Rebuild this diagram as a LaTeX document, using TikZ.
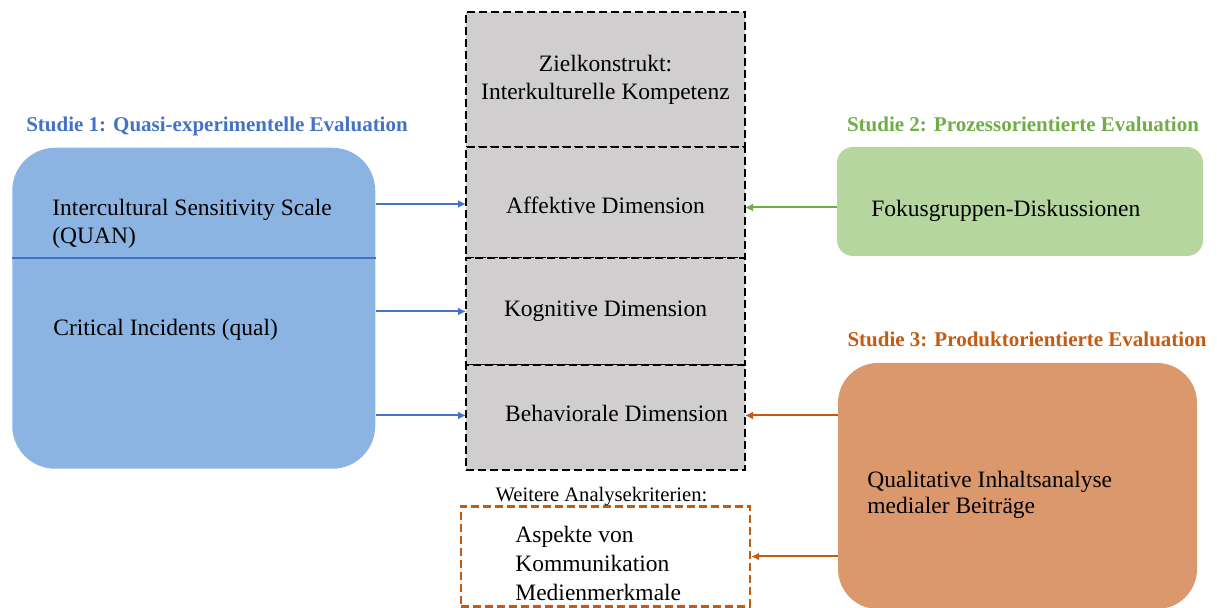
\documentclass[tikz,border=0pt]{standalone}
\usepackage{fontspec}
\setmainfont{Liberation Serif}
\usetikzlibrary{positioning,arrows.meta}
\definecolor{blueline}{RGB}{68,114,196}
\definecolor{bluefill}{RGB}{139,180,226}
\definecolor{greenline}{RGB}{112,173,71}
\definecolor{greenfill}{RGB}{182,214,160}
\definecolor{orangeline}{RGB}{197,90,17}
\definecolor{orangefill}{RGB}{218,152,108}
\definecolor{dimgrey}{RGB}{208,206,206}

\begin{document}
\begin{tikzpicture}[x=0.5pt,y=-0.5pt,
    txt/.style={font=\fontsize{11.75}{14}\selectfont,inner sep=0pt},
    studytitle/.style={font=\fontsize{10.5}{12}\selectfont\bfseries,inner sep=0pt,anchor=base},
    dimbox/.style={draw,dash pattern=on 4pt off 2pt,line width=1.2pt,fill=dimgrey,outer sep=0pt,minimum width=139.5pt,font=\fontsize{11.75}{14}\selectfont},
    link/.style={line width=1pt,-{Latex[length=4pt,width=4pt]}}]
    \useasboundingbox (0,0) rectangle (1217,608);
    % Zielkonstrukt und Dimensionen
    \node(ziel)[dimbox,minimum height=67.5pt,align=center] at (605.5,79.5) {Zielkonstrukt:\\Interkulturelle Kompetenz};
    \node(affektiv)[below=0pt of ziel,dimbox,minimum height=55.5pt,text height=11pt]{Affektive Dimension};
    \node(kognitiv)[below=0pt of affektiv,dimbox,minimum height=53.5pt]{Kognitive Dimension};
    \node(behavioral)[below=0pt of kognitiv,dimbox,minimum height=52.5pt]{};
    \node(behaviortext)[txt] at ([xshift=5.5pt,yshift=2pt]behavioral.center) {Behaviorale Dimension};
    % Studie 1
    \node(studyone)[fill=bluefill,rounded corners=21.5pt,minimum width=181.5pt,minimum height=160.5pt] at (193.75,308.25) {};
    \draw[blueline,line width=1pt] (studyone.west |- 0,258) -- (studyone.east |- 0,258);
    \node(iss)[txt,anchor=west,align=left] at (52,224) {Intercultural Sensitivity Scale\\(QUAN)};
    \node(ci)[txt,anchor=base west] at (53,336) {Critical Incidents (qual)};
    \node(titleone)[studytitle,text=blueline] at (217,132) {Studie 1: Quasi-experimentelle Evaluation};
    % Studie 2
    \node(fokusbox)[fill=greenfill,rounded corners=8pt,minimum width=183pt,minimum height=54.5pt] at (1020,201.5) {};
    \node(fokus)[txt,anchor=base west] at (871,217) {Fokusgruppen-Diskussionen};
    \node(titletwo)[studytitle,text=greenline] at (1023,132) {Studie 2: Prozessorientierte Evaluation};
    % Studie 3
    \node(inhaltbox)[fill=orangefill,rounded corners=20pt,minimum width=179.5pt,minimum height=123pt] at (1017.5,486) {};
    \node(inhalt)[txt,anchor=west,align=left,font=\fontsize{11.75}{13}\selectfont] at (867,495) {Qualitative Inhaltsanalyse\\medialer Beiträge};
    \node(titlethree)[studytitle,text=orangeline] at (1027,347) {Studie 3: Produktorientierte Evaluation};
    % Weitere Analysekriterien
    \node(kriterien)[draw=orangeline,dash pattern=on 4pt off 2pt,line width=1.2pt,minimum width=144.5pt,minimum height=50pt] at (605.5,556.5) {};
    \node(aspekte)[txt,anchor=west,align=left,font=\fontsize{11.75}{14.5}\selectfont] at (515,563) {Aspekte von\\Kommunikation\\Medienmerkmale};
    \node(kriterientitle)[inner sep=0pt,anchor=base,font=\fontsize{10.3}{12}\selectfont] at (601.5,502) {Weitere Analysekriterien:};
    % Pfeile
    \draw[link,blueline] ([yshift=-0.75pt]studyone.east |- affektiv) -- ([yshift=-0.75pt]affektiv.west);
    \draw[link,blueline] (studyone.east |- kognitiv) -- (kognitiv.west);
    \draw[link,blueline] ([yshift=1pt]studyone.east |- behavioral) -- ([yshift=1pt]behavioral.west);
    \draw[link,greenline] ([yshift=-3pt]fokusbox.west) -- ([yshift=-3pt]fokusbox.west -| affektiv.east);
    \draw[link,orangeline] ([yshift=1pt]inhaltbox.west |- behavioral) -- ([yshift=1pt]behavioral.east);
    \draw[link,orangeline] (inhaltbox.west |- kriterien) -- (kriterien.east);
\end{tikzpicture}
\end{document}
